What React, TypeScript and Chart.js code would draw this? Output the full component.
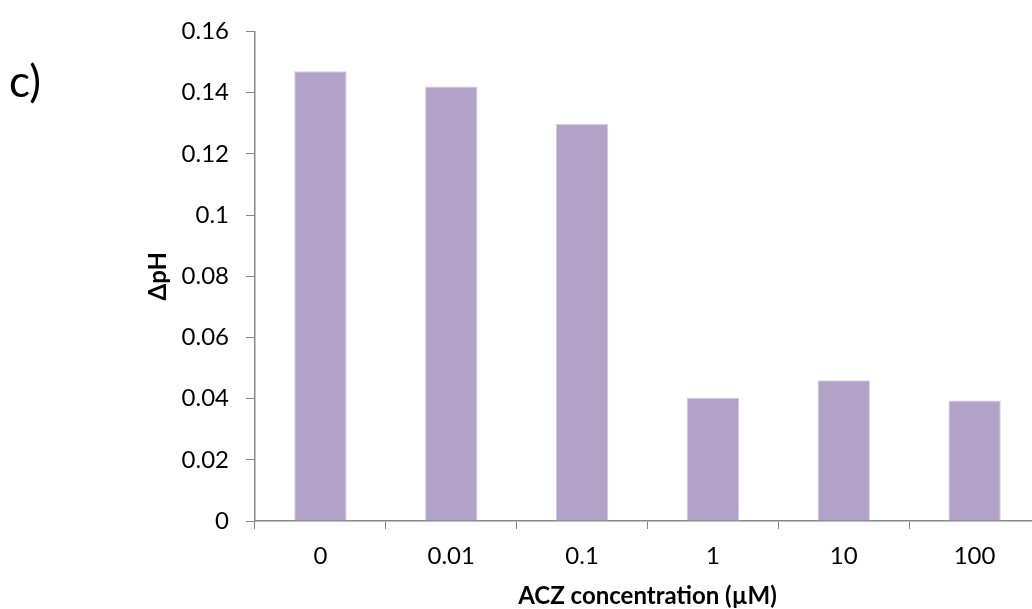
import { useEffect, useRef } from 'react';
import { Chart, registerables } from 'chart.js';

Chart.register(...registerables);

// ACZ concentrations (µM) on the category axis
const concentrations = ['0', '0.01', '0.1', '1', '10', '100'];
// Change in pH for each concentration
const deltaPH = [0.147, 0.142, 0.1297, 0.0403, 0.046, 0.0394];
// Value-axis ticks
const yTicks = [0, 0.02, 0.04, 0.06, 0.08, 0.1, 0.12, 0.14, 0.16];

const axisGrey = '#868686';
const barFill = '#B3A2C7';
const barEdge = '#D3CAE0';
const fontFamily = 'Lato, "Open Sans", sans-serif';

// Panel letter in the top-left corner
const panelLabel = {
  id: 'panelLabel',
  afterDraw(chart: Chart) {
    const { ctx } = chart;
    ctx.save();
    ctx.font = `44px ${fontFamily}`;
    ctx.fillStyle = '#000';
    ctx.textBaseline = 'alphabetic';
    ctx.textAlign = 'left';
    ctx.fillText('c)', 9, 97);
    ctx.restore();
  },
};

export default function App() {
  const canvasRef = useRef<HTMLCanvasElement | null>(null);

  useEffect(() => {
    if (!canvasRef.current) return;
    const chart = new Chart(canvasRef.current, {
      type: 'bar',
      data: {
        labels: concentrations,
        datasets: [
          {
            data: deltaPH,
            backgroundColor: barFill,
            borderColor: barEdge,
            borderWidth: 1,
            categoryPercentage: 0.4,
            barPercentage: 1,
          },
        ],
      },
      options: {
        responsive: false,
        animation: false,
        devicePixelRatio: 1,
        layout: { padding: { left: 0, right: 20, top: 23, bottom: 0 } },
        plugins: {
          legend: { display: false },
          tooltip: { enabled: false },
        },
        scales: {
          x: {
            afterFit: (scale: any) => {
              scale.height = 88;
            },
            grid: {
              offset: true,
              drawOnChartArea: false,
              drawTicks: true,
              tickLength: 8,
              color: axisGrey,
            },
            border: { display: true, color: axisGrey, width: 1.5 },
            ticks: {
              color: '#000',
              padding: 13,
              font: { family: fontFamily, size: 24 },
            },
            title: {
              display: true,
              text: 'ACZ concentration (µM)',
              color: '#000',
              padding: { top: 0, bottom: -2 },
              font: { family: fontFamily, size: 24, weight: 'bold' },
            },
          },
          y: {
            min: 0,
            max: 0.16,
            afterFit: (scale: any) => {
              scale.width = 255;
            },
            afterBuildTicks: (scale: any) => {
              scale.ticks = yTicks.map((v) => ({ value: v }));
            },
            grid: {
              drawOnChartArea: false,
              drawTicks: true,
              tickLength: 9,
              color: axisGrey,
            },
            border: { display: true, color: axisGrey, width: 1.5 },
            ticks: {
              color: '#000',
              padding: 17,
              font: { family: fontFamily, size: 24 },
              callback: (v: any) => String(Number(Number(v).toFixed(2))),
            },
            title: {
              display: true,
              text: 'ΔpH',
              color: '#000',
              padding: { top: 144, bottom: 0 },
              font: { family: fontFamily, size: 24, weight: 'bold' },
            },
          },
        },
      },
      plugins: [panelLabel],
    });
    return () => chart.destroy();
  }, []);

  return (
    <div
      style={{
        position: 'fixed',
        left: 0,
        top: 0,
        width: 1032,
        height: 609,
        overflow: 'hidden',
        background: '#fff',
      }}
    >
      <canvas ref={canvasRef} width={1060} height={609} style={{ display: 'block' }} />
    </div>
  );
}
